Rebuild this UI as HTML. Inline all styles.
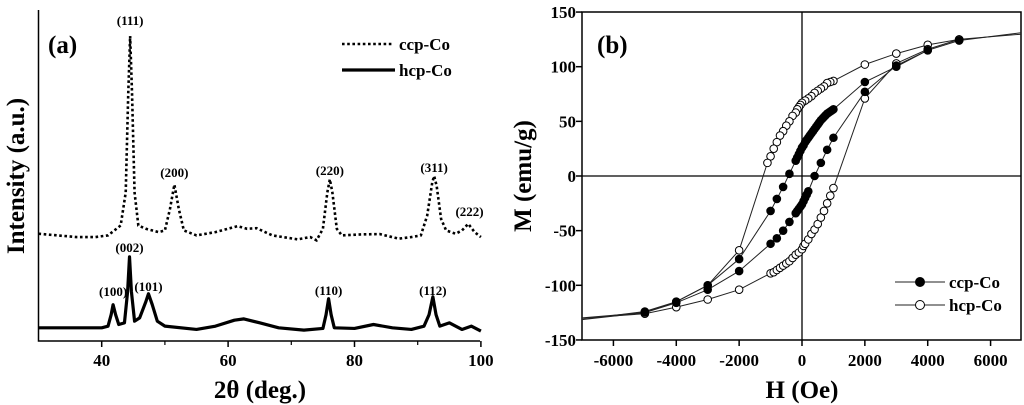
<!DOCTYPE html>
<html><head><meta charset="utf-8"><style>
body{margin:0;background:#fff;}
svg{display:block;font-family:"Liberation Serif",serif;font-weight:bold;}
</style></head><body>
<svg id="chart" width="1024" height="405" viewBox="0 0 1024 405">
<g id="pa"></g>
<g id="pb"></g>
</svg>
<script>
// ---------- Panel (a) data ----------
const xrdTicks=[40,60,80,100];
const xrdMinor=[50,70,90];
const ccpTheta=[30,33,36,39,41,42,43,43.8,44.2,44.5,44.8,45.2,45.8,47,49,50,50.8,51.5,52.2,53,55,58,61.5,63,64.5,67,71,73,74,75,75.7,76.1,76.5,77.2,78,81,84,87,89,90.5,91.5,92.3,92.6,93,93.7,94.5,96,97,98,99,100];
const ccpInt=[32.5,32,31.5,31.5,32,33.5,35,45,75,92.4,75,45,35,34,33,33.5,40,47.4,40,33.5,32,33,34.8,34,34.2,32,30.8,31.5,30.5,34,45,49,45,34,32,32.3,32.4,31,31.5,32,38,48,50,47,37,33.5,32.5,33.5,35.5,33,31.5];
const hcpTheta=[30,35,40,41,41.5,41.8,42.2,42.7,43.6,44.1,44.4,44.7,45.2,46,47,47.4,48,48.8,50,55,58,61,62.5,65,68,72,75,75.5,75.9,76.3,76.8,80,83,86,89,91,91.8,92.4,92.9,93.5,95,97,98.5,100];
const hcpInt=[4,4,4,4.5,8,11,8,5,5.5,15,25.5,15,6,7,12,14.3,11,6,4.5,3.5,4.5,6.3,6.7,5.5,4,3.3,3.8,8,12.8,8,4,3.8,5,4,3.5,4.5,8,13.4,8,4.5,5.5,3.5,4.5,3];
const peakLabels=["(111)","(200)","(220)","(311)","(222)","(100)","(002)","(101)","(110)","(112)"];
const peakTheta=[44.5,51.5,76.1,92.6,98.2,41.8,44.4,47.4,75.9,92.4];
const peakLabInt=[94.5,48.5,49.1,50,36.7,12.4,25.8,13.9,12.7,12.7];

// ---------- Panel (b) data ----------
const hTicks=[-6000,-4000,-2000,0,2000,4000,6000];
const mTicks=[-150,-100,-50,0,50,100,150];
const ccpH=[7500,5000,4000,3000,2000,1000,950,900,850,800,750,700,650,600,550,500,450,400,350,300,250,200,150,100,50,0,-50,-100,-150,-200,-400,-600,-800,-1000,-2000,-3000,-4000,-5000,-7500,-7500,-5000,-4000,-3000,-2000,-1000,-800,-600,-400,-200,-150,-100,-50,0,50,100,150,200,400,600,800,1000,2000,3000,4000,5000,7500];
const ccpM=[133,124,115,100,86,61,60,59,58,57,55.5,54,52.5,51,49,47,45,43,41,39,37,35,33,31,28,26,23,20,17,14,2,-10,-21,-32,-76,-100,-115,-124,-133,-133,-125,-116,-104,-87,-62,-57,-50,-42,-34,-32,-30,-28,-26,-23,-20,-17,-14,0,12,24,35,77,101,115,124,133];
const hcpH=[7500,5000,4000,3000,2000,1000,900,800,700,600,500,400,300,200,100,0,-50,-100,-150,-200,-300,-400,-500,-600,-700,-800,-900,-1000,-1100,-2000,-3000,-4000,-5000,-7500,-7500,-5000,-4000,-3000,-2000,-1000,-900,-800,-700,-600,-500,-400,-300,-200,-100,0,50,100,200,300,400,500,600,700,800,900,1000,2000,3000,4000,5000,7500];
const hcpM=[131,125,120,112,102,87,86,85,82,80,78,76,73,71,69,67,65,63,61,58,55,50,46,41,37,31,25,18,12,-68,-100,-115,-125,-131,-131,-126,-120,-113,-104,-89,-88,-86,-84,-82,-80,-78,-75,-72,-70,-67,-64,-62,-58,-53,-49,-44,-38,-32,-25,-18,-11,71,103,116,125,131];

const NS="http://www.w3.org/2000/svg";
function mk(parent,tag,attrs,text){const e=document.createElementNS(NS,tag);for(const k in attrs)e.setAttribute(k,attrs[k]);if(text!==undefined)e.textContent=text;parent.appendChild(e);return e;}

// ---------- Panel (a) ----------
const pa=document.getElementById('pa');
const ax=v=>38.5+(v-30)*6.32;
const ay=v=>341-v*3.3;
let e;
e=mk(pa,'path',{d:`M38.5,10 V341 H480`,fill:'none',stroke:'#000','stroke-width':1.5});


xrdTicks.forEach(t=>{
  e=mk(pa,'line',{x1:ax(t),x2:ax(t),y1:341,y2:347,stroke:'#000','stroke-width':1.5});
  
  
  e=mk(pa,'text',{x:ax(t),y:366,'text-anchor':'middle','font-size':17},String(t));
  
  
});
xrdMinor.forEach(t=>{
  e=mk(pa,'line',{x1:ax(t),x2:ax(t),y1:341,y2:345,stroke:'#000','stroke-width':1.2});
  
  
});
e=mk(pa,'path',{d:'M'+ccpTheta.map((t,i)=>ax(t)+','+ay(ccpInt[i])).join(' L'),fill:'none',stroke:'#000','stroke-width':2.6,'stroke-dasharray':'2.6 2.6'});


e=mk(pa,'path',{d:'M'+hcpTheta.map((t,i)=>ax(t)+','+ay(hcpInt[i])).join(' L'),fill:'none',stroke:'#000','stroke-width':3.2,'stroke-linejoin':'round'});


peakLabels.forEach((l,i)=>{
  e=mk(pa,'text',{x:ax(peakTheta[i]),y:ay(peakLabInt[i])-4,'text-anchor':'middle','font-size':13},l);
  
  
});
e=mk(pa,'text',{x:48,y:53,'font-size':25},'(a)');


e=mk(pa,'line',{x1:342,x2:392,y1:44,y2:44,stroke:'#000','stroke-width':2.6,'stroke-dasharray':'2.6 2.6'});


e=mk(pa,'text',{x:399,y:50,'font-size':17},'ccp-Co');


e=mk(pa,'line',{x1:342,x2:395,y1:70,y2:70,stroke:'#000','stroke-width':3.2});


e=mk(pa,'text',{x:399,y:76,'font-size':17},'hcp-Co');


e=mk(pa,'text',{x:0,y:0,'font-size':25,'text-anchor':'middle',transform:'translate(24,176) rotate(-90)'},'Intensity (a.u.)');


e=mk(pa,'text',{x:260,y:398,'font-size':25,'text-anchor':'middle'},'2θ (deg.)');



// ---------- Panel (b) ----------
const pb=document.getElementById('pb');
const bx=v=>802+v*0.03143;
const by=v=>176-v*1.093;
mk(pb,'defs',{}).innerHTML='<clipPath id="clipb"><rect x="582" y="12" width="439" height="328"/></clipPath>';
e=mk(pb,'rect',{x:582,y:12,width:439,height:328,fill:'none',stroke:'#000','stroke-width':1.5});


e=mk(pb,'line',{x1:bx(0),x2:bx(0),y1:12,y2:340,stroke:'#000','stroke-width':1.3});


e=mk(pb,'line',{x1:582,x2:1021,y1:by(0),y2:by(0),stroke:'#000','stroke-width':1.3});


hTicks.forEach(t=>{
  e=mk(pb,'line',{x1:bx(t),x2:bx(t),y1:340,y2:346,stroke:'#000','stroke-width':1.5});
  
  
  e=mk(pb,'text',{x:bx(t),y:366,'text-anchor':'middle','font-size':17},String(t));
  
  
});
mTicks.forEach(t=>{
  e=mk(pb,'line',{x1:576,x2:582,y1:by(t),y2:by(t),stroke:'#000','stroke-width':1.5});
  
  
  e=mk(pb,'text',{x:576,y:by(t)+6,'text-anchor':'end','font-size':17},String(t));
  
  
});
const gc=mk(pb,'g',{'clip-path':'url(#clipb)'});
function series(H,M,fill,name){
  e=mk(gc,'path',{d:'M'+H.map((h,i)=>bx(h)+','+by(M[i])).join(' L'),fill:'none',stroke:'#222','stroke-width':1});
  
  
  H.forEach((h,i)=>{
    e=mk(gc,'circle',{cx:bx(h),cy:by(M[i]),r:3.8,fill:fill,stroke:'#000','stroke-width':1});
    
    
  });
}
series(hcpH,hcpM,'#fff','hcp-co');
series(ccpH,ccpM,'#000','ccp-co');
e=mk(pb,'text',{x:597,y:53,'font-size':25},'(b)');


[['ccp-Co','#000',282],['hcp-Co','#fff',305]].forEach(([l,f,y])=>{
  e=mk(pb,'line',{x1:895,x2:945,y1:y,y2:y,stroke:'#222','stroke-width':1});
  
  
  e=mk(pb,'circle',{cx:920,cy:y,r:4.5,fill:f,stroke:'#000','stroke-width':1});
  
  
  e=mk(pb,'text',{x:949,y:y+6,'font-size':17},l);
  
  
});
e=mk(pb,'text',{x:0,y:0,'font-size':25,'text-anchor':'middle',transform:'translate(531,176) rotate(-90)'},'M (emu/g)');


e=mk(pb,'text',{x:802,y:398,'font-size':25,'text-anchor':'middle'},'H (Oe)');


</script>
</body></html>
